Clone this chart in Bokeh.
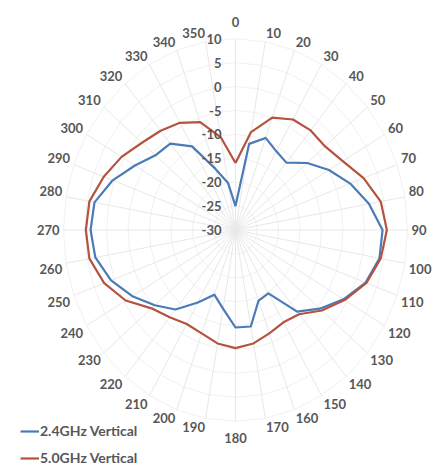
import math
from bokeh.plotting import figure
from bokeh.models import ColumnDataSource, Range1d, Legend, LegendItem
from bokeh.core.properties import value
from bokeh.embed import file_html
from bokeh.resources import INLINE

# ---- data -------------------------------------------------------------
angles = list(range(0, 360, 10))
angle_labels = [str(a) for a in angles]

ghz24_vertical = [-25, -11.7, -9.5, -11.0, -11.6, -8.2, -4.9, -1.6, 1.5,
                  4.2, 4.0, 2.2, -1.0, -4.4, -7.7, -14.7, -14.3, -9.5,
                  -9.6, -13.3, -15.6, -12.5, -8.3, -5.5, -2.3, 0.8, 3.1,
                  3.7, 3.3, 0.4, -3.0, -5.7, -6.4, -9.8, -16.4, -20.0]

ghz50_vertical = [-16.0, -9.2, -5.0, -3.3, -2.8, -2.8, -1.2, 1.7, 4.3,
                  5.2, 4.3, 2.4, -0.7, -3.8, -7.0, -7.7, -7.0, -5.9,
                  -5.3, -5.9, -7.0, -7.3, -6.2, -4.5, -0.5, 2.5, 4.5,
                  4.8, 4.5, 2.6, 0.6, -1.6, -2.9, -4.1, -6.0, -10.3]

r_ticks = [10, 5, 0, -5, -10, -15, -20, -25, -30]
r_min, r_max = -30, 10
series_names = ["2.4GHz Vertical", "5.0GHz Vertical"]

# ---- layout -----------------------------------------------------------
W, H = 433, 467
cx, cy = 235.0, 229.5      # pole position inside the canvas (px)
sx, sy = 4.30, 4.78        # px per dB, horizontal / vertical
FONT = "Lato"
TXT = "#575757"

p = figure(width=W, height=H, output_backend="svg", toolbar_location=None,
           x_range=Range1d(-cx / sx, (W - cx) / sx),
           y_range=Range1d(-(H - cy) / sy, cy / sy),
           x_axis_type=None, y_axis_type=None, min_border=0,
           outline_line_color=None, background_fill_color="white",
           border_fill_color="white")
p.grid.visible = False


def to_xy(vals, degs):
    xs, ys = [], []
    for v, a in zip(vals, degs):
        rr = v - r_min
        t = math.radians(a)
        xs.append(rr * math.sin(t))
        ys.append(rr * math.cos(t))
    return xs, ys


# grid rings
for tv in r_ticks[:-1]:
    xs, ys = to_xy([tv] * (len(angles) + 1), angles + [angles[0]])
    p.line(xs, ys, line_color="#f1f1f1", line_width=1)

# spokes
sp_x1, sp_y1 = to_xy([r_max] * len(angles), angles)
p.segment(x0=[0] * len(angles), y0=[0] * len(angles), x1=sp_x1, y1=sp_y1,
          line_color="#e8e8e8", line_width=1)

# series
blue_x, blue_y = to_xy(ghz24_vertical + [ghz24_vertical[0]], angles + [angles[0]])
red_x, red_y = to_xy(ghz50_vertical + [ghz50_vertical[0]], angles + [angles[0]])
r_blue = p.line(blue_x, blue_y, line_color="#4a7bb7", line_width=2.2,
                line_join="round")
r_red = p.line(red_x, red_y, line_color="#b4533f", line_width=2.2,
               line_join="round")

# radial value labels
p.text(x=[-14 / sx] * len(r_ticks), y=[t - r_min for t in r_ticks],
       text=[str(t) for t in r_ticks], text_align="right",
       text_baseline="middle", text_font=value(FONT),
       text_font_size="13px", text_color=TXT, text_font_style="bold")

# category labels
lx, ly, aligns, bases = [], [], [], []
for a in angles:
    t = math.radians(a)
    s, c = math.sin(t), math.cos(t)
    if abs(s) < 1e-9:
        lx.append(0.0)
        ly.append(math.copysign(203 / sy, c))
        aligns.append("center")
        bases.append("bottom" if c > 0 else "top")
        continue
    lx.append(176 / sx * s)
    ly.append(195 / sy * c)
    aligns.append("left" if s > 0 else "right")
    if abs(c) < 1e-9:
        bases.append("middle")
    else:
        bases.append("bottom" if c > 0 else "top")

lab_src = ColumnDataSource(dict(x=lx, y=ly, text=angle_labels,
                                align=aligns, base=bases))
p.text(x="x", y="y", text="text", source=lab_src, text_align="align",
       text_baseline="base", text_font=value(FONT), text_font_size="13px",
       text_color=TXT, text_font_style="bold")

legend = Legend(items=[LegendItem(label=series_names[0], renderers=[r_blue]),
                       LegendItem(label=series_names[1], renderers=[r_red])],
                location=(20, 1), orientation="vertical")
legend.margin = 0
legend.padding = 0
legend.spacing = 10
legend.glyph_width = 19
legend.glyph_height = 16
legend.label_height = 16
legend.label_standoff = 1
legend.border_line_color = None
legend.background_fill_alpha = 0
legend.label_text_font = FONT
legend.label_text_font_size = "14px"
legend.label_text_font_style = "bold"
legend.label_text_color = TXT
p.add_layout(legend)

open("out.html", "w").write(file_html(p, INLINE))
